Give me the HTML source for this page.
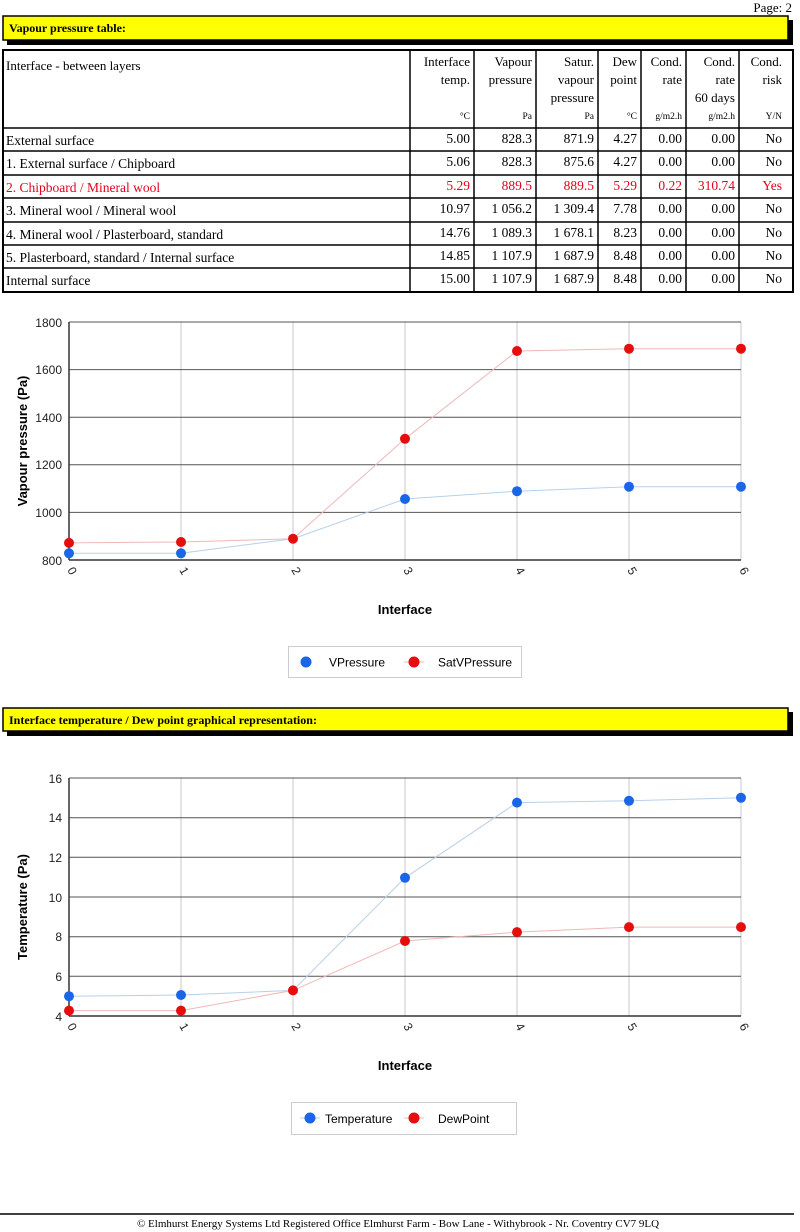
<!DOCTYPE html>
<html><head><meta charset="utf-8"><style>
html,body{margin:0;padding:0;background:#fff;width:800px;height:1232px;overflow:hidden}
svg{display:block}
.s{font-family:"Liberation Serif",serif}
.a{font-family:"Liberation Sans",sans-serif}
</style></head><body>
<svg width="800" height="1232" viewBox="0 0 800 1232" xmlns="http://www.w3.org/2000/svg">
<text class="s" x="792" y="12" font-size="13" text-anchor="end">Page: 2</text>
<!-- yellow bar 1 -->
<rect x="7" y="20" width="786" height="25" fill="#000"/>
<rect x="3" y="16" width="785" height="24" fill="#ffff00" stroke="#000" stroke-width="1.5"/>
<text class="s" x="9" y="32" font-size="12" font-weight="bold">Vapour pressure table:</text>
<!-- table -->
<g stroke="#000" fill="none">
<rect x="3" y="50" width="790" height="242" stroke-width="2"/>
<g stroke-width="1.5">
<line x1="3" y1="128" x2="793" y2="128"/><line x1="3" y1="151" x2="793" y2="151"/><line x1="3" y1="175" x2="793" y2="175"/><line x1="3" y1="198" x2="793" y2="198"/><line x1="3" y1="222" x2="793" y2="222"/><line x1="3" y1="245" x2="793" y2="245"/><line x1="3" y1="268" x2="793" y2="268"/>
<line x1="410" y1="50" x2="410" y2="292"/><line x1="474" y1="50" x2="474" y2="292"/><line x1="536" y1="50" x2="536" y2="292"/><line x1="598" y1="50" x2="598" y2="292"/><line x1="641" y1="50" x2="641" y2="292"/><line x1="686" y1="50" x2="686" y2="292"/><line x1="739" y1="50" x2="739" y2="292"/>
</g></g>
<g class="s" font-size="13" text-anchor="end">
<text x="6" y="70" text-anchor="start">Interface - between layers</text>
<text x="470" y="66">Interface</text><text x="470" y="84">temp.</text>
<text x="532" y="66">Vapour</text><text x="532" y="84">pressure</text>
<text x="594" y="66">Satur.</text><text x="594" y="84">vapour</text><text x="594" y="102">pressure</text>
<text x="637" y="66">Dew</text><text x="637" y="84">point</text>
<text x="682" y="66">Cond.</text><text x="682" y="84">rate</text>
<text x="735" y="66">Cond.</text><text x="735" y="84">rate</text><text x="735" y="102">60 days</text>
<text x="782" y="66">Cond.</text><text x="782" y="84">risk</text>
</g>
<g class="s" font-size="9.5" text-anchor="end">
<text x="470" y="119">°C</text><text x="532" y="119">Pa</text><text x="594" y="119">Pa</text><text x="637" y="119">°C</text><text x="682" y="119">g/m2.h</text><text x="735" y="119">g/m2.h</text><text x="782" y="119">Y/N</text>
</g>
<g class="s" font-size="13.5" text-anchor="end">
<g><text x="6" y="145" text-anchor="start">External surface</text><text x="470" y="143">5.00</text><text x="532" y="143">828.3</text><text x="594" y="143">871.9</text><text x="637" y="143">4.27</text><text x="682" y="143">0.00</text><text x="735" y="143">0.00</text><text x="782" y="143">No</text></g>
<g><text x="6" y="168" text-anchor="start">1. External surface / Chipboard</text><text x="470" y="166">5.06</text><text x="532" y="166">828.3</text><text x="594" y="166">875.6</text><text x="637" y="166">4.27</text><text x="682" y="166">0.00</text><text x="735" y="166">0.00</text><text x="782" y="166">No</text></g>
<g fill="#e3001b"><text x="6" y="192" text-anchor="start">2. Chipboard / Mineral wool</text><text x="470" y="190">5.29</text><text x="532" y="190">889.5</text><text x="594" y="190">889.5</text><text x="637" y="190">5.29</text><text x="682" y="190">0.22</text><text x="735" y="190">310.74</text><text x="782" y="190">Yes</text></g>
<g><text x="6" y="215" text-anchor="start">3. Mineral wool / Mineral wool</text><text x="470" y="213">10.97</text><text x="532" y="213">1 056.2</text><text x="594" y="213">1 309.4</text><text x="637" y="213">7.78</text><text x="682" y="213">0.00</text><text x="735" y="213">0.00</text><text x="782" y="213">No</text></g>
<g><text x="6" y="239" text-anchor="start">4. Mineral wool / Plasterboard, standard</text><text x="470" y="237">14.76</text><text x="532" y="237">1 089.3</text><text x="594" y="237">1 678.1</text><text x="637" y="237">8.23</text><text x="682" y="237">0.00</text><text x="735" y="237">0.00</text><text x="782" y="237">No</text></g>
<g><text x="6" y="262" text-anchor="start">5. Plasterboard, standard / Internal surface</text><text x="470" y="260">14.85</text><text x="532" y="260">1 107.9</text><text x="594" y="260">1 687.9</text><text x="637" y="260">8.48</text><text x="682" y="260">0.00</text><text x="735" y="260">0.00</text><text x="782" y="260">No</text></g>
<g><text x="6" y="285" text-anchor="start">Internal surface</text><text x="470" y="283">15.00</text><text x="532" y="283">1 107.9</text><text x="594" y="283">1 687.9</text><text x="637" y="283">8.48</text><text x="682" y="283">0.00</text><text x="735" y="283">0.00</text><text x="782" y="283">No</text></g>
</g>

<!-- chart 1 -->
<g stroke="#c8c8cc" stroke-width="1">
<line x1="181" y1="322" x2="181" y2="560"/><line x1="293" y1="322" x2="293" y2="560"/><line x1="405" y1="322" x2="405" y2="560"/><line x1="517" y1="322" x2="517" y2="560"/><line x1="629" y1="322" x2="629" y2="560"/><line x1="741" y1="322" x2="741" y2="560"/>
</g>
<g stroke="#555" stroke-width="1">
<line x1="69" y1="322" x2="741" y2="322"/><line x1="69" y1="369.6" x2="741" y2="369.6"/><line x1="69" y1="417.2" x2="741" y2="417.2"/><line x1="69" y1="464.8" x2="741" y2="464.8"/><line x1="69" y1="512.4" x2="741" y2="512.4"/>
</g>
<line x1="69" y1="560" x2="741" y2="560" stroke="#333" stroke-width="1.5"/>
<line x1="69" y1="322" x2="69" y2="560" stroke="#333" stroke-width="1.5"/>
<g class="a" font-size="12" text-anchor="end" fill="#222">
<text x="62" y="327">1800</text><text x="62" y="374">1600</text><text x="62" y="422">1400</text><text x="62" y="469">1200</text><text x="62" y="517">1000</text><text x="62" y="565">800</text>
</g>
<g class="a" font-size="12" fill="#222">
<text transform="translate(67,570) rotate(60)">0</text><text transform="translate(179,570) rotate(60)">1</text><text transform="translate(291,570) rotate(60)">2</text><text transform="translate(403,570) rotate(60)">3</text><text transform="translate(515,570) rotate(60)">4</text><text transform="translate(627,570) rotate(60)">5</text><text transform="translate(739,570) rotate(60)">6</text>
</g>
<text class="a" font-size="13" font-weight="bold" transform="translate(27,441) rotate(-90)" text-anchor="middle">Vapour pressure (Pa)</text>
<text class="a" font-size="13" font-weight="bold" x="405" y="614" text-anchor="middle">Interface</text>
<polyline fill="none" stroke="#b8d0e8" stroke-width="1" points="69,553.3 181,553.3 293,538.7 405,499 517,491.2 629,486.7 741,486.7"/>
<polyline fill="none" stroke="#f0b8b8" stroke-width="1" points="69,542.9 181,542 293,538.7 405,438.8 517,351 629,348.7 741,348.7"/>
<g fill="#1a66e6"><circle cx="69" cy="553.3" r="5"/><circle cx="181" cy="553.3" r="5"/><circle cx="405" cy="499" r="5"/><circle cx="517" cy="491.2" r="5"/><circle cx="629" cy="486.7" r="5"/><circle cx="741" cy="486.7" r="5"/></g>
<g fill="#e30e0e"><circle cx="69" cy="542.9" r="5"/><circle cx="181" cy="542" r="5"/><circle cx="293" cy="538.7" r="5"/><circle cx="405" cy="438.8" r="5"/><circle cx="517" cy="351" r="5"/><circle cx="629" cy="348.7" r="5"/><circle cx="741" cy="348.7" r="5"/></g>
<rect x="288.5" y="646.5" width="233" height="31" fill="#fff" stroke="#ccc"/>
<circle cx="306" cy="662" r="5.5" fill="#1a66e6"/>
<text class="a" x="329" y="666.5" font-size="12">VPressure</text>
<line x1="404" y1="662" x2="424" y2="662" stroke="#f0b8b8"/>
<circle cx="414" cy="662" r="5.5" fill="#e30e0e"/>
<text class="a" x="438" y="666.5" font-size="12">SatVPressure</text>

<!-- yellow bar 2 -->
<rect x="7" y="712" width="786" height="24" fill="#000"/>
<rect x="3" y="708" width="785" height="23" fill="#ffff00" stroke="#000" stroke-width="1.5"/>
<text class="s" x="9" y="724" font-size="12" font-weight="bold">Interface temperature / Dew point graphical representation:</text>

<!-- chart 2 -->
<g stroke="#c8c8cc" stroke-width="1">
<line x1="181" y1="778" x2="181" y2="1016"/><line x1="293" y1="778" x2="293" y2="1016"/><line x1="405" y1="778" x2="405" y2="1016"/><line x1="517" y1="778" x2="517" y2="1016"/><line x1="629" y1="778" x2="629" y2="1016"/><line x1="741" y1="778" x2="741" y2="1016"/>
</g>
<g stroke="#555" stroke-width="1">
<line x1="69" y1="778" x2="741" y2="778"/><line x1="69" y1="817.7" x2="741" y2="817.7"/><line x1="69" y1="857.3" x2="741" y2="857.3"/><line x1="69" y1="897" x2="741" y2="897"/><line x1="69" y1="936.7" x2="741" y2="936.7"/><line x1="69" y1="976.3" x2="741" y2="976.3"/>
</g>
<line x1="69" y1="1016" x2="741" y2="1016" stroke="#333" stroke-width="1.5"/>
<line x1="69" y1="778" x2="69" y2="1016" stroke="#333" stroke-width="1.5"/>
<g class="a" font-size="12" text-anchor="end" fill="#222">
<text x="62" y="783">16</text><text x="62" y="822">14</text><text x="62" y="862">12</text><text x="62" y="902">10</text><text x="62" y="941">8</text><text x="62" y="981">6</text><text x="62" y="1021">4</text>
</g>
<g class="a" font-size="12" fill="#222">
<text transform="translate(67,1026) rotate(60)">0</text><text transform="translate(179,1026) rotate(60)">1</text><text transform="translate(291,1026) rotate(60)">2</text><text transform="translate(403,1026) rotate(60)">3</text><text transform="translate(515,1026) rotate(60)">4</text><text transform="translate(627,1026) rotate(60)">5</text><text transform="translate(739,1026) rotate(60)">6</text>
</g>
<text class="a" font-size="13" font-weight="bold" transform="translate(27,907) rotate(-90)" text-anchor="middle">Temperature (Pa)</text>
<text class="a" font-size="13" font-weight="bold" x="405" y="1070" text-anchor="middle">Interface</text>
<polyline fill="none" stroke="#b8d0e8" stroke-width="1" points="69,996.2 181,995 293,990.4 405,877.8 517,802.6 629,800.8 741,797.8"/>
<polyline fill="none" stroke="#f0b8b8" stroke-width="1" points="69,1010.6 181,1010.6 293,990.4 405,941 517,932.1 629,927.1 741,927.1"/>
<g fill="#1a66e6"><circle cx="69" cy="996.2" r="5"/><circle cx="181" cy="995" r="5"/><circle cx="405" cy="877.8" r="5"/><circle cx="517" cy="802.6" r="5"/><circle cx="629" cy="800.8" r="5"/><circle cx="741" cy="797.8" r="5"/></g>
<g fill="#e30e0e"><circle cx="69" cy="1010.6" r="5"/><circle cx="181" cy="1010.6" r="5"/><circle cx="293" cy="990.4" r="5"/><circle cx="405" cy="941" r="5"/><circle cx="517" cy="932.1" r="5"/><circle cx="629" cy="927.1" r="5"/><circle cx="741" cy="927.1" r="5"/></g>
<rect x="291.5" y="1102.5" width="225" height="32" fill="#fff" stroke="#ccc"/>
<line x1="300" y1="1118" x2="320" y2="1118" stroke="#b8d0e8"/>
<circle cx="310" cy="1118" r="5.5" fill="#1a66e6"/>
<text class="a" x="325" y="1123" font-size="12">Temperature</text>
<line x1="404" y1="1118" x2="424" y2="1118" stroke="#f0b8b8"/>
<circle cx="414" cy="1118" r="5.5" fill="#e30e0e"/>
<text class="a" x="438" y="1123" font-size="12">DewPoint</text>

<!-- footer -->
<line x1="0" y1="1214" x2="794" y2="1214" stroke="#000" stroke-width="1.5"/>
<text class="s" x="398" y="1227" font-size="11" text-anchor="middle">© Elmhurst Energy Systems Ltd Registered Office Elmhurst Farm - Bow Lane - Withybrook - Nr. Coventry CV7 9LQ</text>
</svg>
</body></html>
